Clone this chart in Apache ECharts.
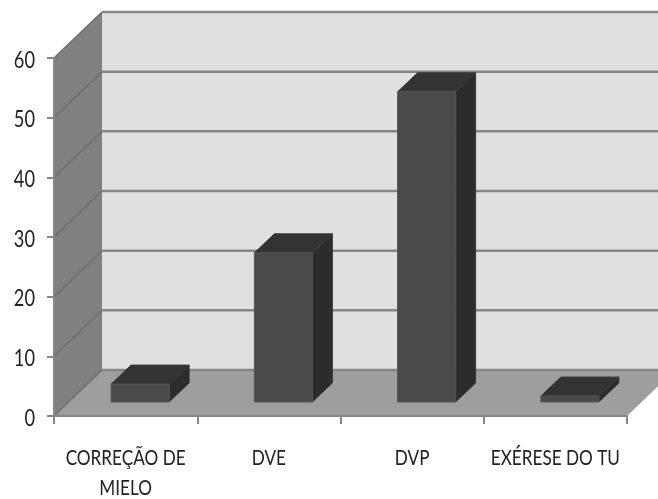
<!DOCTYPE html>
<html lang="en">
<head>
    <meta charset="UTF-8">
    <title>Chart</title>
    <script src="https://cdn.jsdelivr.net/npm/echarts@6/dist/echarts.min.js"></script>
    <style>
        html,body{margin:0;padding:0;background:#fff;}
        #chart_1{width:658px;height:499px;filter:blur(0.5px);}
    </style>
</head>
<body>
<div id="chart_1"></div>
<script>
var categories = ['CORREÇÃO DE\nMIELO', 'DVE', 'DVP', 'EXÉRESE DO TU'];
var values = [3, 25, 52, 1];
var yTicks = [0, 10, 20, 30, 40, 50, 60];

// depth of the fake 3d box, in pixels
var wallDx = 48, wallDy = 46;
var barShiftX = 14.5, barShiftY = 14, barDepthX = 20, barDepthY = 19, barRatio = 0.405;
var textColor = '#222222';
var labelFont = '22px Lato, "Open Sans", sans-serif';
var tickFont = '24px Lato, "Open Sans", sans-serif';
// the picture is squeezed sideways, axis labels can't do that so they are drawn as custom text
var labelScaleX = 0.78, tickScaleX = 0.76;

function renderWalls(params, api){
    var cs = params.coordSys;
    var top = api.coord([0, yTicks[yTicks.length-1]])[1];
    var bottom = api.coord([0, yTicks[0]])[1];
    var left = cs.x, right = cs.x + cs.width;
    return {type:'group', children:[
        {type:'rect', shape:{x:left+wallDx, y:top-wallDy, width:right-left, height:bottom-top},
            style:{fill:'#e0e0e0'}},
        {type:'polygon', shape:{points:[[left,top],[left+wallDx,top-wallDy],[left+wallDx,bottom-wallDy],[left,bottom]]},
            style:{fill:'#808080'}},
        {type:'polygon', shape:{points:[[left,bottom],[left+wallDx,bottom-wallDy],[right+wallDx,bottom-wallDy],[right,bottom]]},
            style:{fill:'#9e9e9e'}}
    ]};
}

function renderGridLine(params, api){
    var cs = params.coordSys;
    var y = api.coord([0, api.value(0)])[1];
    var left = cs.x, right = cs.x + cs.width;
    return {type:'group', children:[
        {type:'line', shape:{x1:left, y1:y, x2:left+wallDx, y2:y-wallDy},
            style:{stroke:'#6f6f6f', lineWidth:1.5}},
        {type:'line', shape:{x1:left+wallDx, y1:y-wallDy, x2:right+wallDx, y2:y-wallDy},
            style:{stroke:'#868686', lineWidth:2.5}}
    ]};
}

function renderBar(params, api){
    var p = api.coord([api.value(0), api.value(1)]);
    var base = api.coord([api.value(0), 0]);
    var w = api.size([1,0])[0]*barRatio;
    var x0 = p[0]-w/2+barShiftX, x1 = x0+w;
    var yTop = p[1]-barShiftY, yBot = base[1]-barShiftY;
    var dx = barDepthX, dy = barDepthY;
    return {type:'group', children:[
        {type:'polygon', shape:{points:[[x1,yTop],[x1+dx,yTop-dy],[x1+dx,yBot-dy],[x1,yBot]]},
            style:{fill:'#2c2c2c', stroke:'#3a3a3a', lineWidth:1}},
        {type:'polygon', shape:{points:[[x0,yTop],[x0+dx,yTop-dy],[x1+dx,yTop-dy],[x1,yTop]]},
            style:{fill:'#333333', stroke:'#3a3a3a', lineWidth:1}},
        {type:'rect', shape:{x:x0, y:yTop, width:w, height:yBot-yTop},
            style:{fill:'#4a4a4a', stroke:'#555555', lineWidth:1}}
    ]};
}

function renderCategoryLabel(params, api){
    var p = api.coord([api.value(0), 0]);
    return {type:'text', x:p[0], y:p[1]+27, scaleX:labelScaleX,
        style:{text:categories[api.value(0)], fill:textColor, font:labelFont,
            align:'center', verticalAlign:'top', lineHeight:30}};
}

function renderTickLabel(params, api){
    var p = api.coord([0, api.value(0)]);
    return {type:'text', x:params.coordSys.x-19, y:p[1]+2, scaleX:tickScaleX,
        style:{text:String(api.value(0)), fill:textColor, font:tickFont,
            align:'right', verticalAlign:'middle'}};
}

var myChart1 = echarts.init(document.getElementById('chart_1'));
var option = {
    animation:false,
    backgroundColor:'#ffffff',
    grid:{left:54, right:31, top:58, bottom:83},
    xAxis:{
        type:'category',
        data:categories,
        z:10,
        axisLine:{lineStyle:{color:'#868686', width:2}},
        axisTick:{show:true, alignWithLabel:false, length:8, lineStyle:{color:'#868686', width:2}},
        axisLabel:{show:false}
    },
    yAxis:{
        type:'value', min:0, max:60, interval:10,
        z:10,
        axisLine:{show:true, lineStyle:{color:'#868686', width:2}},
        axisTick:{show:true, length:7, lineStyle:{color:'#868686', width:2}},
        axisLabel:{show:false},
        splitLine:{show:false}
    },
    series:[
        {type:'custom', name:'walls', z:1, silent:true, renderItem:renderWalls, data:[[0]], encode:{y:0}},
        {type:'custom', name:'grid', z:2, silent:true, renderItem:renderGridLine,
            data:yTicks.map(function(t){return [t];}), encode:{y:0}},
        {type:'custom', name:'bars', z:3, silent:true, renderItem:renderBar,
            data:values.map(function(v,i){return [i,v];}), encode:{x:0,y:1}},
        {type:'custom', name:'xlabels', z:4, silent:true, renderItem:renderCategoryLabel,
            data:categories.map(function(c,i){return [i];}), encode:{x:0}},
        {type:'custom', name:'ylabels', z:4, silent:true, renderItem:renderTickLabel,
            data:yTicks.map(function(t){return [t];}), encode:{y:0}}
    ]
};
myChart1.setOption(option);
</script>
</body>
</html>
